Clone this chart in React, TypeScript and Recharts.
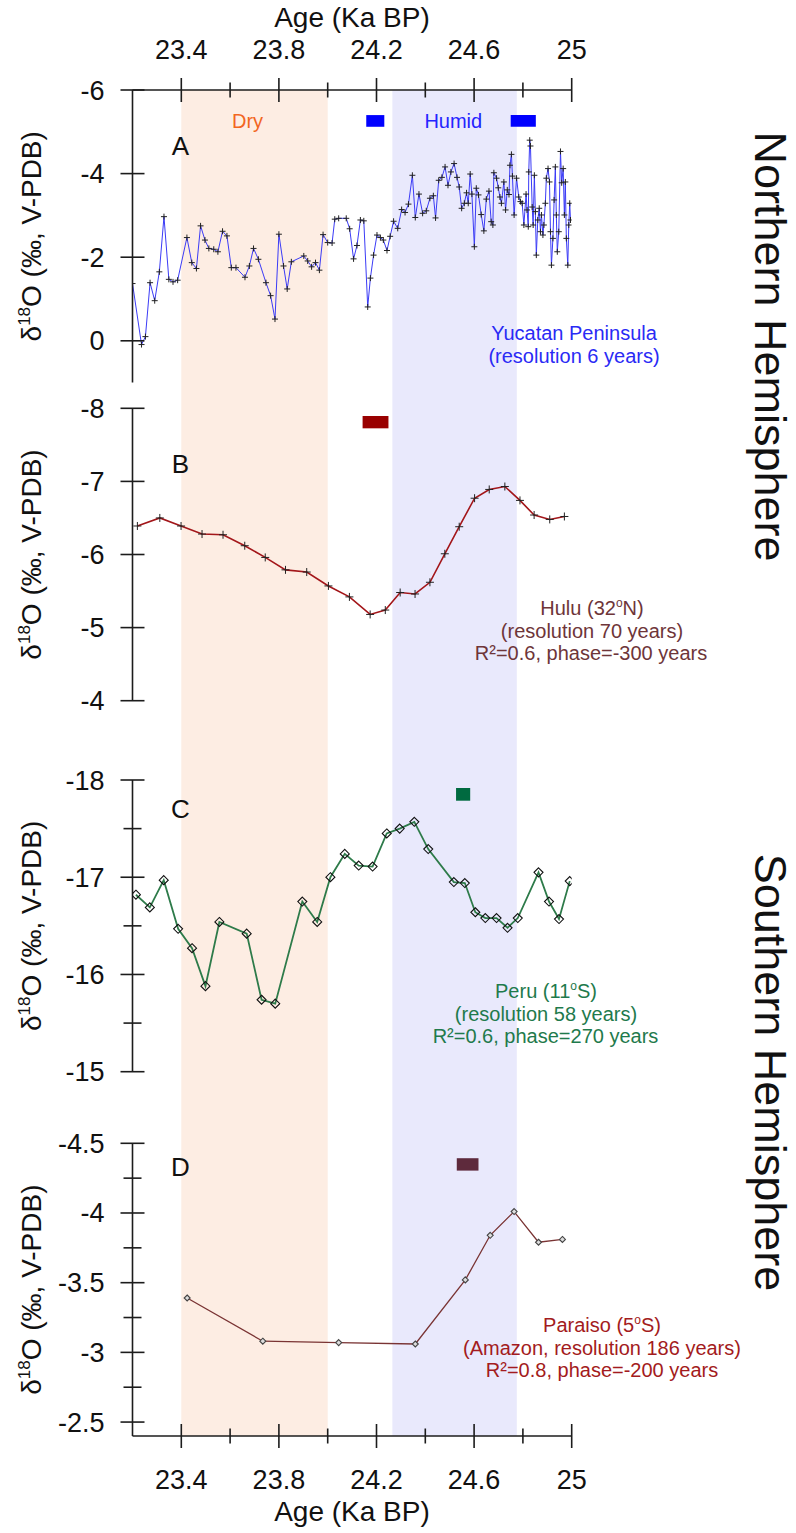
import React from "react";
import { LineChart, Line, XAxis, YAxis, ReferenceArea } from "recharts";

const W = 796;
const H = 1533;
const FONT = '"Liberation Sans", Arial, Helvetica, sans-serif';
const INK = "#1c1c1c";

// shared age axis (Ka BP)
const ageDomain = [23.2, 25];
const ageTicks = [23.4, 23.6, 23.8, 24.0, 24.2, 24.4, 24.6, 24.8, 25.0];
const ageLabels = [23.4, 23.8, 24.2, 24.6, 25.0];
const dryPeriod = [23.4, 24.0];
const humidPeriod = [24.265, 24.775];

// A - Yucatan Peninsula
const yucatanAge = [
  23.2, 23.237, 23.253, 23.272, 23.291, 23.31, 23.329, 23.349, 23.366, 23.385,
  23.423, 23.443, 23.462, 23.479, 23.497, 23.513, 23.533, 23.55, 23.569, 23.587,
  23.605, 23.624, 23.661, 23.679, 23.696, 23.716, 23.747, 23.766, 23.784, 23.8,
  23.819, 23.834, 23.851, 23.902, 23.918, 23.934, 23.95, 23.966, 23.981, 24.0,
  24.018, 24.029, 24.045, 24.076, 24.09, 24.106, 24.12, 24.134, 24.148, 24.164,
  24.175, 24.188, 24.202, 24.216, 24.228, 24.243, 24.256, 24.27, 24.287, 24.303,
  24.317, 24.331, 24.347, 24.359, 24.374, 24.389, 24.404, 24.419, 24.433, 24.442,
  24.455, 24.468, 24.481, 24.493, 24.505, 24.518, 24.53, 24.539, 24.549, 24.56,
  24.569, 24.576, 24.584, 24.591, 24.601, 24.609, 24.618, 24.629, 24.64, 24.65,
  24.661, 24.67, 24.677, 24.681, 24.692, 24.699, 24.706, 24.712, 24.722, 24.729,
  24.736, 24.743, 24.747, 24.753, 24.757, 24.764, 24.774, 24.783, 24.79, 24.797,
  24.804, 24.813, 24.817, 24.822, 24.824, 24.828, 24.831, 24.838, 24.842, 24.847,
  24.851, 24.855, 24.861, 24.867, 24.872, 24.876, 24.882, 24.886, 24.892, 24.896,
  24.903, 24.909, 24.913, 24.917, 24.923, 24.928, 24.933, 24.937, 24.941, 24.947,
  24.954, 24.959, 24.965, 24.97, 24.974, 24.978, 24.984, 24.988, 24.992, 24.995,
];
const yucatanD18O = [
  -1.37, 0.09, -0.1, -1.39, -0.96, -1.65, -2.97, -1.47, -1.41, -1.45,
  -2.47, -1.87, -1.73, -2.75, -2.41, -2.21, -2.19, -2.13, -2.62, -2.51,
  -1.75, -1.75, -1.52, -1.79, -2.21, -1.95, -1.39, -1.08, -0.52, -2.55,
  -1.79, -1.24, -1.89, -2.03, -1.91, -1.77, -1.87, -1.69, -2.54, -2.35,
  -2.34, -2.91, -2.93, -2.93, -2.68, -1.96, -2.28, -2.89, -2.87, -0.81,
  -1.5, -2.05, -2.53, -2.47, -2.41, -2.16, -2.5, -2.86, -2.69, -3.14,
  -3.07, -3.27, -3.96, -2.95, -3.51, -3.05, -3.11, -3.41, -3.47, -2.94,
  -3.84, -3.91, -4.16, -3.72, -4.04, -4.24, -3.91, -3.68, -3.17, -3.29,
  -3.54, -3.29, -3.99, -3.51, -2.25, -3.65, -3.49, -3.02, -2.63, -3.39,
  -3.58, -2.85, -2.77, -4.02, -3.89, -3.66, -3.44, -3.29, -3.8, -3.13,
  -3.61, -3.5, -4.2, -4.46, -3.94, -3.01, -3.89, -3.44, -3.33, -3.29,
  -2.77, -3.51, -3.13, -2.73, -4.04, -4.8, -4.66, -3.2, -2.77, -3.96,
  -3.09, -2.05, -2.89, -3.17, -2.61, -3.01, -2.53, -2.77, -3.29, -3.89,
  -4.12, -3.8, -2.61, -1.81, -2.45, -3.37, -4.16, -3.01, -2.13, -2.61,
  -4.53, -3.78, -4.12, -3.01, -3.8, -2.45, -1.81, -2.77, -3.29, -2.89,
];

// B - Hulu
const huluAge = [
  23.22, 23.312, 23.399, 23.485, 23.571, 23.66, 23.744, 23.827, 23.914, 24.003,
  24.089, 24.174, 24.236, 24.297, 24.358, 24.419, 24.48, 24.539, 24.602, 24.662,
  24.726, 24.788, 24.846, 24.91, 24.97,
];
const huluD18O = [
  -6.39, -6.5, -6.39, -6.28, -6.27, -6.12, -5.96, -5.79, -5.76, -5.57,
  -5.42, -5.18, -5.24, -5.48, -5.46, -5.62, -6.01, -6.38, -6.77, -6.89,
  -6.93, -6.74, -6.54, -6.48, -6.52,
];

// C - Peru
const peruAge = [
  23.214, 23.271, 23.328, 23.387, 23.444, 23.499, 23.556, 23.668, 23.729, 23.785,
  23.896, 23.957, 24.011, 24.07, 24.127, 24.184, 24.242, 24.295, 24.355, 24.412,
  24.517, 24.562, 24.605, 24.646, 24.692, 24.737, 24.779, 24.864, 24.907, 24.948,
  24.992,
];
const peruD18O = [
  -16.82, -16.69, -16.97, -16.47, -16.27, -15.88, -16.54, -16.42, -15.74, -15.7,
  -16.75, -16.54, -17.0, -17.24, -17.12, -17.11, -17.45, -17.5, -17.57, -17.29,
  -16.95, -16.94, -16.64, -16.58, -16.58, -16.48, -16.58, -17.05, -16.75, -16.57,
  -16.96,
];

// D - Paraiso
const paraisoAge = [23.424, 23.734, 24.045, 24.359, 24.564, 24.666, 24.764, 24.864, 24.962];
const paraisoD18O = [-3.39, -3.08, -3.07, -3.06, -3.52, -3.84, -4.01, -3.79, -3.81];

// small phase bars [x1, x2, y1, y2]
const yucatanBars = [
  [24.158, 24.232, -5.4, -5.12],
  [24.75, 24.853, -5.4, -5.12],
];
const huluBars = [[24.143, 24.249, -7.895, -7.726]];
const peruBars = [[24.526, 24.584, -17.918, -17.787]];
const paraisoBars = [[24.529, 24.618, -4.393, -4.304]];

const zip = (ages: number[], vals: number[]) => ages.map((age, i) => ({ age, v: vals[i] }));

const near = (list: number[], v: number) => list.some((l) => Math.abs(l - v) < 1e-6);

const AgeTick = (props: any) => {
  const { x, y, payload, side } = props;
  const major = near(ageLabels, payload.value);
  const len = major ? 12 : 7.5;
  const ly = side === "top" ? y - 31.5 : y + 52.5;
  return (
    <g>
      <line x1={x} x2={x} y1={y - len} y2={y + len} stroke={INK} strokeWidth={1.6} />
      {major && (
        <text x={x} y={ly} textAnchor="middle" fontSize={27} fill="#111" fontFamily={FONT}>
          {String(Number(payload.value.toFixed(1)))}
        </text>
      )}
    </g>
  );
};

const ValueTick = (props: any) => {
  const { x, y, payload, labelled } = props;
  const major = near(labelled, payload.value);
  const len = major ? 12 : 9;
  return (
    <g>
      <line x1={x - len} x2={x + len} y1={y} y2={y} stroke={INK} strokeWidth={1.6} />
      {major && (
        <text x={x - 28} y={y + 9.5} textAnchor="end" fontSize={27} fill="#111" fontFamily={FONT}>
          {String(payload.value)}
        </text>
      )}
    </g>
  );
};

const YTitle = (props: any) => {
  const vb = props.viewBox || { y: 0, height: 0 };
  const cy = vb.y + vb.height / 2;
  return (
    <text transform={`translate(41, ${cy}) rotate(-90)`} textAnchor="middle" fontSize={28} fill="#111" fontFamily={FONT}>
      δ<tspan dy={-11} fontSize={17}>18</tspan>
      <tspan dy={11}>O (‰, V-PDB)</tspan>
    </text>
  );
};

const plusDot = (size: number, color: string) => (p: any) => {
  const { cx, cy, index } = p;
  if (cx == null || cy == null) return <g key={`d${index}`} />;
  return (
    <g key={`d${index}`}>
      <line x1={cx - size} x2={cx + size} y1={cy} y2={cy} stroke={color} strokeWidth={1} />
      <line x1={cx} x2={cx} y1={cy - size} y2={cy + size} stroke={color} strokeWidth={1} />
    </g>
  );
};

const diamondDot = (size: number, stroke: string, fill: string) => (p: any) => {
  const { cx, cy, index } = p;
  if (cx == null || cy == null) return <g key={`d${index}`} />;
  return (
    <path
      key={`d${index}`}
      d={`M${cx},${cy - size}L${cx + size},${cy}L${cx},${cy + size}L${cx - size},${cy}Z`}
      stroke={stroke}
      strokeWidth={1.1}
      fill={fill}
    />
  );
};

type Panel = {
  data: { age: number; v: number }[];
  top: number;
  bottom: number;
  domain: number[];
  ticks: number[];
  labelled: number[];
  bars: number[][];
  barColor: string;
  stroke: string;
  strokeWidth: number;
  dot: any;
};

const panels: Panel[] = [
  {
    data: zip(yucatanAge, yucatanD18O),
    top: 90, bottom: 382.6, domain: [-6, 1],
    ticks: [-6, -4, -2, 0], labelled: [-6, -4, -2, 0],
    bars: yucatanBars, barColor: "#0000ff",
    stroke: "#3b3bf6", strokeWidth: 1, dot: plusDot(3, "#222"),
  },
  {
    data: zip(huluAge, huluD18O),
    top: 408.3, bottom: 700.7, domain: [-8, -4],
    ticks: [-8, -7, -6, -5, -4], labelled: [-8, -7, -6, -5, -4],
    bars: huluBars, barColor: "#990000",
    stroke: "#a3161a", strokeWidth: 1.6, dot: plusDot(4, "#222"),
  },
  {
    data: zip(peruAge, peruD18O),
    top: 780, bottom: 1071.7, domain: [-18, -15],
    ticks: [-18, -17.5, -17, -16.5, -16, -15.5, -15], labelled: [-18, -17, -16, -15],
    bars: peruBars, barColor: "#006a40",
    stroke: "#2e7b4a", strokeWidth: 1.8, dot: diamondDot(4.5, "#111", "none"),
  },
  {
    data: zip(paraisoAge, paraisoD18O),
    top: 1143.3, bottom: 1436, domain: [-4.5, -2.4],
    ticks: [-4.5, -4.25, -4, -3.75, -3.5, -3.25, -3, -2.75, -2.5], labelled: [-4.5, -4, -3.5, -3, -2.5],
    bars: paraisoBars, barColor: "#5e2a3c",
    stroke: "#7a3434", strokeWidth: 1.3, dot: diamondDot(3, "#444", "#ddd"),
  },
];

const RIGHT = 224.3;
const YW = 132.5;

const layer: React.CSSProperties = { position: "absolute", left: 0, top: 0 };

function Background() {
  const frame = [
    { age: ageDomain[0], s: 0 },
    { age: ageDomain[1], s: 1 },
  ];
  return (
    <div style={layer}>
      <LineChart width={W} height={H} data={frame} margin={{ top: 60, bottom: 67, left: YW, right: RIGHT }}>
        <XAxis
          xAxisId="top" orientation="top" dataKey="age" type="number" domain={ageDomain} ticks={ageTicks}
          interval={0} height={30} tickSize={0} tickMargin={0} tickLine={false}
          axisLine={{ stroke: INK, strokeWidth: 1.6 }} tick={<AgeTick side="top" />} allowDataOverflow
        />
        <XAxis
          xAxisId="bottom" orientation="bottom" dataKey="age" type="number" domain={ageDomain} ticks={ageTicks}
          interval={0} height={30} tickSize={0} tickMargin={0} tickLine={false}
          axisLine={{ stroke: INK, strokeWidth: 1.6 }} tick={<AgeTick side="bottom" />} allowDataOverflow
        />
        <YAxis yAxisId="bg" hide type="number" domain={[0, 1]} allowDataOverflow />
        <ReferenceArea
          xAxisId="top" yAxisId="bg" x1={dryPeriod[0]} x2={dryPeriod[1]} y1={0} y2={1}
          fill="#fdede3" fillOpacity={1} stroke="none" ifOverflow="visible"
        />
        <ReferenceArea
          xAxisId="top" yAxisId="bg" x1={humidPeriod[0]} x2={humidPeriod[1]} y1={0} y2={1}
          fill="#e9e9fc" fillOpacity={1} stroke="none" ifOverflow="visible"
        />
        <Line xAxisId="top" yAxisId="bg" dataKey="s" stroke="none" dot={false} activeDot={false} isAnimationActive={false} />
      </LineChart>
    </div>
  );
}

function PanelChart({ p }: { p: Panel }) {
  return (
    <div style={layer}>
      <LineChart width={W} height={H} data={p.data} margin={{ top: p.top, bottom: H - p.bottom, left: 0, right: RIGHT }}>
        <XAxis dataKey="age" type="number" domain={ageDomain} hide allowDataOverflow />
        <YAxis
          type="number" domain={p.domain} reversed ticks={p.ticks} interval={0} width={YW}
          tickSize={0} tickMargin={0} tickLine={false} allowDataOverflow
          axisLine={{ stroke: INK, strokeWidth: 1.6 }}
          tick={<ValueTick labelled={p.labelled} />}
          label={<YTitle />}
        />
        {p.bars.map((b, i) => (
          <ReferenceArea key={i} x1={b[0]} x2={b[1]} y1={b[2]} y2={b[3]} fill={p.barColor} fillOpacity={1} stroke="none" />
        ))}
        <Line
          type="linear" dataKey="v" stroke={p.stroke} strokeWidth={p.strokeWidth}
          dot={p.dot} activeDot={false} isAnimationActive={false}
        />
      </LineChart>
    </div>
  );
}

const tx = { fontFamily: FONT, textAnchor: "middle" as const };

function Annotations() {
  return (
    <svg width={W} height={H} style={{ ...layer, pointerEvents: "none" }}>
      <text x={247.5} y={127.7} fontSize={20} fill="#f2661f" {...tx}>Dry</text>
      <text x={453.3} y={127.7} fontSize={20} fill="#2424ff" {...tx}>Humid</text>

      <g fontSize={26} fill="#111">
        <text x={180.5} y={155} {...tx}>A</text>
        <text x={180.5} y={473.3} {...tx}>B</text>
        <text x={180.5} y={817.8} {...tx}>C</text>
        <text x={180.5} y={1176} {...tx}>D</text>
      </g>

      <g fontSize={20} fill="#2a2af5">
        <text x={574} y={340} {...tx}>Yucatan Peninsula</text>
        <text x={574} y={362.5} {...tx}>(resolution 6 years)</text>
      </g>
      <g fontSize={20} fill="#6e3539">
        <text x={592} y={615} {...tx}>
          Hulu (32<tspan dy={-8} fontSize={12}>o</tspan>
          <tspan dy={8}>N)</tspan>
        </text>
        <text x={592} y={637.5} {...tx}>(resolution 70 years)</text>
        <text x={591} y={660} {...tx}>R²=0.6, phase=-300 years</text>
      </g>
      <g fontSize={20} fill="#1f7a4c">
        <text x={546} y={998.3} {...tx}>
          Peru (11<tspan dy={-8} fontSize={12}>o</tspan>
          <tspan dy={8}>S)</tspan>
        </text>
        <text x={546} y={1020.8} {...tx}>(resolution 58 years)</text>
        <text x={545.5} y={1043.3} {...tx}>R²=0.6, phase=270 years</text>
      </g>
      <g fontSize={20} fill="#a31b20">
        <text x={602} y={1332.3} {...tx}>
          Paraiso (5<tspan dy={-8} fontSize={12}>o</tspan>
          <tspan dy={8}>S)</tspan>
        </text>
        <text x={602} y={1354.8} {...tx}>(Amazon, resolution 186 years)</text>
        <text x={602} y={1377.3} {...tx}>R²=0.8, phase=-200 years</text>
      </g>

      <g fontSize={45} fill="#111">
        <text transform="translate(755, 346.5) rotate(90)" {...tx}>Northern Hemisphere</text>
        <text transform="translate(755, 1072.5) rotate(90)" {...tx}>Southern Hemisphere</text>
      </g>

      <g fontSize={28} fill="#111">
        <text x={352} y={26.7} {...tx}>Age (Ka BP)</text>
        <text x={352} y={1520.7} {...tx}>Age (Ka BP)</text>
      </g>
    </svg>
  );
}

export default function App() {
  return (
    <div style={{ position: "absolute", left: 0, top: 0, width: W, height: H, background: "#fff", overflow: "hidden" }}>
      <Background />
      {panels.map((p, i) => (
        <PanelChart key={i} p={p} />
      ))}
      <Annotations />
    </div>
  );
}
